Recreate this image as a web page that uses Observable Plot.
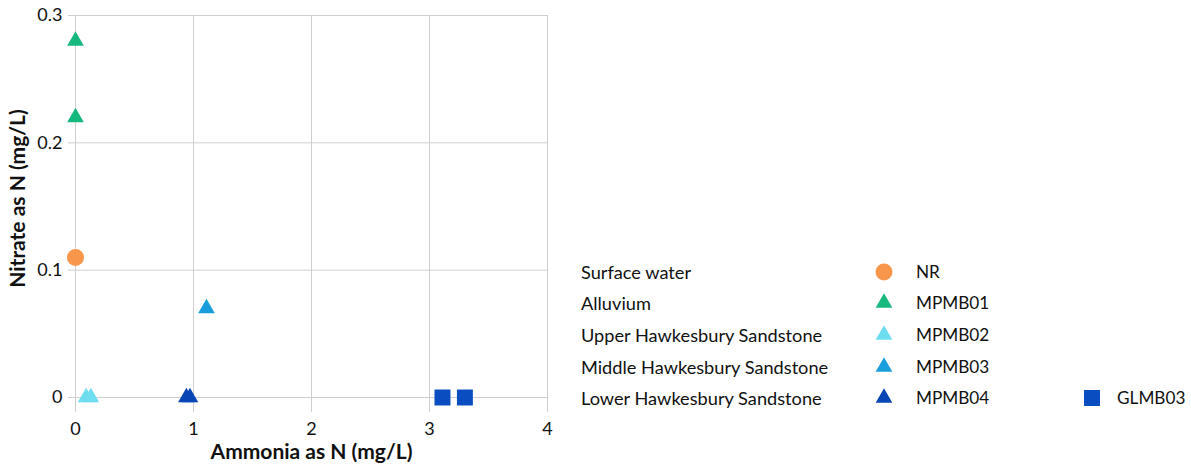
<!DOCTYPE html>
<html>
<head>
<meta charset="utf-8">
<script src="https://cdn.jsdelivr.net/npm/d3@7"></script>
<script src="https://cdn.jsdelivr.net/npm/@observablehq/plot@0.6"></script>
<style>
  html, body { margin: 0; padding: 0; background: #fff; }
  #wrap { position: relative; width: 1191px; height: 470px; font-family: Lato, "Open Sans", sans-serif; color: #111; }
  #chart { position: absolute; left: 0; top: 0; }
  .lg { position: absolute; font-size: 18.2px; line-height: 22px; white-space: nowrap; transform: translateY(-50%); }
  .lg.nm { font-size: 17.2px; }
  .sym { position: absolute; transform: translate(-50%, -50%); line-height: 0; }
</style>
</head>
<body>
<div id="wrap"><div id="chart"></div></div>
<script>
// Data
const sites    = ["NR", "MPMB01", "MPMB01", "MPMB02", "MPMB02", "MPMB03", "MPMB04", "MPMB04", "GLMB03", "GLMB03"];
const ammonia  = [0.00, 0.00, 0.00, 0.09, 0.13, 1.11, 0.94, 0.97, 3.11, 3.30];
const nitrate  = [0.11, 0.28, 0.22, 0.00, 0.00, 0.07, 0.00, 0.00, 0.00, 0.00];

const seriesNames  = ["NR", "MPMB01", "MPMB02", "MPMB03", "MPMB04", "GLMB03"];
const seriesGroups = ["Surface water", "Alluvium", "Upper Hawkesbury Sandstone", "Middle Hawkesbury Sandstone", "Lower Hawkesbury Sandstone", "Lower Hawkesbury Sandstone"];
const seriesColors = ["#F8964B", "#17B87D", "#6EDDF0", "#1A9EDB", "#0A45B5", "#0A4DC0"];
const seriesSymbols = ["circle", "triangle", "triangle", "triangle", "triangle", "square"];

const xTicks = [0, 1, 2, 3, 4];
const yTicks = [0, 0.1, 0.2, 0.3];
const xLabel = "Ammonia as N (mg/L)";
const yLabel = "Nitrate as N (mg/L)";

const rows = sites.map((s, i) => ({site: s, x: ammonia[i], y: nitrate[i]}));
const symSize = {circle: 8.5, triangle: 6.2, square: 9};

const dotMarks = seriesNames.map((name, k) =>
  Plot.dot(rows.filter(d => d.site === name), {
    x: "x", y: "y",
    fill: seriesColors[k],
    symbol: () => seriesSymbols[k],
    r: symSize[seriesSymbols[k]],
    stroke: "none"
  })
);

const chart = Plot.plot({
  width: 560,
  height: 470,
  marginLeft: 75,
  marginRight: 13,
  marginTop: 15,
  marginBottom: 73,
  style: {fontFamily: "Lato, 'Open Sans', sans-serif", fontSize: "17px", color: "#111", background: "transparent"},
  x: {domain: [0, 4]},
  y: {domain: [0, 0.3]},
  marks: [
    Plot.gridX(xTicks, {stroke: "#cfcfcf", strokeOpacity: 1}),
    Plot.gridY(yTicks, {stroke: "#cfcfcf", strokeOpacity: 1}),
    Plot.axisX(xTicks, {tickSize: 15, tickPadding: 10, stroke: "#cfcfcf", fontSize: 18, fill: "#111", label: null, tickFormat: d => String(d)}),
    Plot.axisY(yTicks, {tickSize: 7, tickPadding: 6, stroke: "#cfcfcf", fontSize: 18, fill: "#111", label: null, tickFormat: d => String(d)}),
    ...dotMarks,
    Plot.text([xLabel], {frameAnchor: "bottom", dy: 61, text: d => d, fontWeight: "bold", fontSize: 21, fill: "#111"}),
    Plot.text([yLabel], {frameAnchor: "left", textAnchor: "middle", dx: -57, dy: -8, rotate: -90, text: d => d, fontWeight: "bold", fontSize: 21, fill: "#111"})
  ]
});
document.getElementById("chart").appendChild(chart);

// Legend (HTML)
const wrap = document.getElementById("wrap");
const rowY = [272, 303, 335, 367, 398];
function symbolSvg(sym, color) {
  const s = 22;
  const p = d3.symbol(sym === "circle" ? d3.symbolCircle : sym === "square" ? d3.symbolSquare : d3.symbolTriangle,
    Math.PI * symSize[sym] * symSize[sym])();
  return `<svg width="${s}" height="${s}" viewBox="${-s/2} ${-s/2} ${s} ${s}"><path d="${p}" fill="${color}"/></svg>`;
}
function add(cls, x, y, html) {
  const el = document.createElement("div");
  el.className = cls;
  el.style.left = x + "px";
  el.style.top = y + "px";
  el.innerHTML = html;
  wrap.appendChild(el);
}
const groupsUnique = [...new Set(seriesGroups)];
groupsUnique.forEach((g, r) => add("lg", 581, rowY[r], g));
let colCount = {};
seriesNames.forEach((name, k) => {
  const r = groupsUnique.indexOf(seriesGroups[k]);
  const c = colCount[r] || 0;
  colCount[r] = c + 1;
  const sx = c === 0 ? 884 : 1092;
  const tx = c === 0 ? 916 : 1117;
  add("sym", sx, rowY[r], symbolSvg(seriesSymbols[k], seriesColors[k]));
  add("lg nm", tx, rowY[r], name);
});
</script>
</body>
</html>
